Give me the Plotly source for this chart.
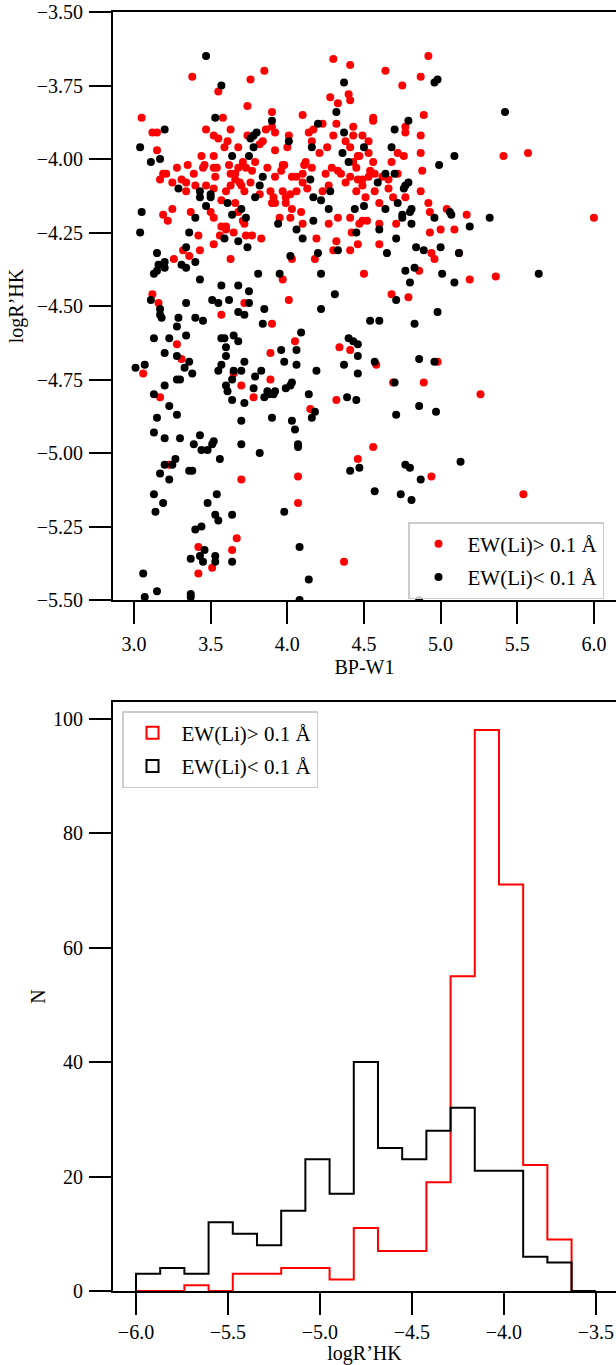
import numpy as np
import plotly.graph_objects as go

# ---------------- data ----------------
# Scatter: (BP-W1, logR'HK) for stars with EW(Li) > 0.1 A
li_rich_points = [
    (3.05,-3.86),(3.38,-3.72),(3.55,-3.77),(3.76,-3.73),(3.85,-3.70),(3.74,-3.82),(3.90,-3.84),(3.58,-3.86),
    (3.47,-3.90),(3.63,-3.90),(3.52,-3.92),(3.55,-3.93),(3.12,-3.91),(3.15,-3.91),(3.15,-3.97),(3.61,-3.94),
    (3.59,-3.96),(3.68,-3.96),(3.74,-3.92),(3.84,-3.94),(3.82,-3.95),(3.86,-3.90),(3.90,-3.89),(3.92,-3.91),
    (3.92,-3.97),(4.01,-3.92),(4.00,-3.96),(4.10,-3.85),(4.14,-3.91),(4.17,-3.90),(4.16,-3.94),(4.23,-3.88),
    (4.30,-3.66),(4.41,-3.68),(4.33,-3.81),(4.40,-3.78),(4.41,-3.80),(4.28,-3.79),(4.32,-3.88),(4.30,-3.92),
    (4.38,-3.94),(4.41,-3.96),(4.43,-3.92),(4.21,-3.98),(4.26,-3.96),(4.46,-3.99),(4.45,-4.03),
    (3.44,-3.99),(3.52,-3.99),(3.45,-4.03),(3.35,-4.02),(3.28,-4.03),(3.19,-4.05),(3.21,-4.05),(3.17,-4.07),
    (3.25,-4.08),(3.31,-4.07),(3.34,-4.08),(3.39,-4.05),(3.46,-4.02),(3.52,-4.03),(3.53,-4.06),(3.54,-4.03),
    (3.62,-4.02),(3.63,-4.05),(3.66,-4.05),(3.68,-4.03),(3.71,-4.01),(3.73,-4.03),(3.77,-4.04),(3.79,-4.01),
    (3.87,-4.03),(3.92,-4.06),(3.97,-4.02),(3.96,-4.04),(3.98,-4.02),(4.03,-4.06),(4.06,-4.06),(4.10,-4.05),
    (4.12,-4.01),(4.11,-4.02),(4.16,-4.03),(4.25,-4.05),(4.29,-4.03),(4.33,-4.04),(4.35,-4.05),(4.38,-4.08),
    (4.41,-4.06),(4.46,-4.07),(4.45,-4.11),
    (3.34,-4.11),(3.40,-4.09),(3.47,-4.09),(3.52,-4.10),(3.60,-4.11),(3.63,-4.09),(3.66,-4.07),(3.69,-4.08),
    (3.70,-4.09),(3.72,-4.11),(3.76,-4.08),(3.82,-4.12),(3.89,-4.11),(3.91,-4.13),(3.97,-4.11),(3.99,-4.13),
    (4.02,-4.12),(4.06,-4.11),(4.10,-4.08),(4.13,-4.10),(4.27,-4.09),(4.23,-4.11),(3.90,-4.15),(3.92,-4.15),
    (3.99,-4.15),(4.03,-4.17),(4.09,-4.18),(4.10,-4.22),(4.02,-4.20),(3.95,-4.20),(4.27,-4.22),(4.33,-4.20),
    (4.41,-4.20),(4.47,-4.22),(3.19,-4.19),(3.22,-4.21),(3.25,-4.17),(3.37,-4.18),(3.50,-4.18),(3.52,-4.20),
    (3.57,-4.14),(3.66,-4.15),(3.68,-4.18),(3.71,-4.21),(3.72,-4.22),(3.57,-4.23),(3.60,-4.23),(3.60,-4.24),
    (3.65,-4.25),(3.73,-4.26),(3.77,-4.26),(3.83,-4.27),(3.56,-4.26),(3.42,-4.26),(4.19,-4.27),(4.32,-4.28),
    (4.42,-4.25),
    (4.92,-3.65),(4.64,-3.70),(4.87,-3.72),(4.75,-3.75),(4.56,-3.86),(4.56,-3.87),(4.89,-3.85),(4.43,-3.89),
    (4.77,-3.89),(4.77,-3.91),(4.87,-3.92),(4.49,-3.92),(4.53,-3.94),(4.53,-3.98),(4.72,-3.98),(4.76,-3.99),
    (4.87,-3.98),(4.47,-3.99),(4.43,-4.01),(4.56,-4.01),(4.68,-4.01),(4.54,-4.04),(4.57,-4.05),(4.62,-4.06),
    (4.66,-4.07),(4.72,-4.05),(4.53,-4.06),(4.49,-4.07),(4.49,-4.09),(4.57,-4.11),(4.66,-4.10),(4.88,-4.04),
    (4.87,-4.11),(4.69,-4.13),(4.77,-4.13),(4.51,-4.13),(4.60,-4.15),(4.92,-4.15),(4.93,-4.18),(5.04,-4.17),
    (5.17,-4.19),(4.49,-4.21),(4.52,-4.21),(4.60,-4.22),(4.71,-4.22),(5.41,-3.99),(5.57,-3.98),(6.00,-4.20),
    (4.93,-4.25),(5.00,-4.24),(5.09,-4.24),
    (3.32,-4.31),(3.43,-4.31),(3.52,-4.29),(3.63,-4.34),(3.36,-4.33),(3.26,-4.34),(4.03,-4.34),(4.18,-4.34),
    (4.30,-4.31),(4.41,-4.31),(4.46,-4.29),(3.97,-4.41),(3.12,-4.46),(3.16,-4.49),(3.72,-4.49),(4.01,-4.48),
    (3.57,-4.53),(3.90,-4.56),(3.28,-4.63),(4.05,-4.62),(3.89,-4.66),(4.34,-4.64),(4.41,-4.65),(3.31,-4.68),
    (3.06,-4.73),(3.65,-4.73),(3.70,-4.77),(3.89,-4.75),(3.17,-4.81),(3.78,-4.81),(4.32,-4.82),(4.15,-4.85),
    (4.60,-4.29),(4.94,-4.32),(4.96,-4.34),(5.12,-4.32),(4.86,-4.38),(4.50,-4.39),(5.19,-4.41),(5.36,-4.40),
    (4.68,-4.46),(4.79,-4.47),(4.58,-4.70),(4.98,-4.69),(4.69,-4.76),(4.89,-4.76),(5.26,-4.80),
    (3.23,-5.04),(3.70,-5.09),(4.07,-5.08),(4.07,-5.17),(3.67,-5.29),(3.64,-5.33),(3.42,-5.32),(3.42,-5.41),
    (3.51,-5.39),(4.37,-5.37),(4.46,-5.02),(4.56,-4.98),(4.94,-5.08),(5.54,-5.14),
]

# Scatter: (BP-W1, logR'HK) for stars with EW(Li) < 0.1 A
li_poor_points = [
    (3.47,-3.65),(3.57,-3.75),(3.53,-3.86),(3.90,-3.87),(3.20,-3.90),(3.04,-3.96),(3.17,-4.00),(3.11,-4.01),
    (3.76,-3.93),(3.78,-3.92),(3.80,-3.91),(3.78,-3.96),(3.64,-3.99),(3.75,-3.99),(4.01,-3.94),(4.20,-3.88),
    (4.32,-3.84),(4.37,-3.74),(4.37,-3.91),(4.16,-3.96),(4.36,-3.98),(4.40,-4.01),(3.84,-4.06),(3.82,-4.09),
    (3.79,-4.13),(3.29,-4.10),(3.43,-4.11),(3.50,-4.12),(3.50,-4.13),(3.43,-4.13),(3.47,-4.16),(3.61,-4.15),
    (3.70,-4.17),(3.64,-4.19),(3.73,-4.20),(3.05,-4.18),(3.40,-4.20),(4.15,-4.07),(4.17,-4.13),(4.22,-4.14),
    (4.28,-4.11),(4.27,-4.17),(4.44,-4.17),(4.17,-4.21),(3.94,-4.22),(4.06,-4.24),(3.04,-4.25),(3.36,-4.25),
    (4.45,-4.25),(3.59,-4.27),(3.68,-4.28),(4.10,-4.27),
    (4.96,-3.74),(4.98,-3.73),(5.42,-3.84),(4.79,-3.87),(4.70,-3.90),(4.50,-3.96),(4.68,-3.96),(5.09,-3.99),
    (4.99,-4.02),(4.64,-4.05),(4.70,-4.05),(4.59,-4.08),(4.76,-4.10),(4.77,-4.09),(4.79,-4.08),(4.72,-4.15),
    (4.50,-4.16),(4.64,-4.17),(4.81,-4.17),(4.80,-4.18),(4.75,-4.19),(4.75,-4.20),(4.81,-4.22),(5.06,-4.18),
    (5.07,-4.19),(4.96,-4.20),(5.32,-4.20),(5.19,-4.23),(4.60,-4.24),(4.71,-4.27),
    (3.34,-4.30),(3.74,-4.30),(4.33,-4.31),(3.15,-4.32),(4.02,-4.33),(4.20,-4.32),(3.16,-4.36),(3.20,-4.35),
    (3.20,-4.37),(3.31,-4.36),(3.34,-4.37),(3.40,-4.35),(3.13,-4.39),(3.15,-4.38),(3.81,-4.39),(3.95,-4.39),
    (4.22,-4.39),(3.43,-4.41),(3.57,-4.43),(3.68,-4.43),(3.75,-4.45),(4.31,-4.46),(3.11,-4.48),(3.34,-4.49),
    (3.51,-4.48),(3.55,-4.49),(3.62,-4.48),(3.75,-4.49),(3.17,-4.51),(3.17,-4.53),(3.18,-4.54),(3.29,-4.54),
    (3.40,-4.54),(3.45,-4.55),(3.68,-4.52),(3.72,-4.53),(3.85,-4.51),(3.84,-4.56),(4.22,-4.51),(3.28,-4.57),
    (3.13,-4.61),(3.23,-4.61),(3.34,-4.60),(3.57,-4.61),(3.59,-4.61),(3.65,-4.60),(3.68,-4.62),(3.60,-4.64),
    (4.09,-4.59),(3.20,-4.66),(3.96,-4.65),(4.06,-4.65),(4.40,-4.61),(4.43,-4.62),(4.46,-4.63),(4.46,-4.67),
    (3.28,-4.67),(3.36,-4.69),(3.33,-4.71),(3.60,-4.67),(3.57,-4.70),(3.72,-4.69),(3.70,-4.72),(3.65,-4.72),
    (3.64,-4.75),(3.01,-4.71),(3.07,-4.70),(3.38,-4.73),(3.28,-4.75),(3.30,-4.75),(3.55,-4.72),(3.83,-4.72),
    (3.79,-4.74),(3.98,-4.69),(4.06,-4.70),(4.19,-4.72),(4.37,-4.70),(4.46,-4.73),(3.20,-4.77),(3.13,-4.80),
    (3.60,-4.77),(3.61,-4.79),(3.78,-4.78),(3.87,-4.79),(3.88,-4.80),(3.91,-4.80),(3.92,-4.79),(3.99,-4.78),
    (4.02,-4.77),(4.03,-4.76),(4.14,-4.80),(3.64,-4.82),(3.72,-4.83),(3.85,-4.81),(4.39,-4.81),(4.45,-4.82),
    (3.23,-4.84),(3.15,-4.88),(3.28,-4.87),(4.18,-4.86),(4.16,-4.88),(3.90,-4.88),(4.03,-4.89),(3.70,-4.89),
    (4.84,-4.30),(4.89,-4.31),(5.00,-4.30),(4.65,-4.32),(5.12,-4.32),(4.77,-4.38),(4.83,-4.37),(5.01,-4.39),
    (5.09,-4.42),(4.80,-4.42),(5.64,-4.39),(4.71,-4.48),(4.98,-4.52),(4.54,-4.55),(4.60,-4.55),(4.83,-4.56),
    (4.57,-4.69),(4.86,-4.68),(4.96,-4.69),(4.70,-4.76),(4.86,-4.84),(4.97,-4.86),(4.71,-4.87),
    (4.05,-4.92),(3.13,-4.93),(3.20,-4.95),(3.30,-4.95),(3.43,-4.94),(3.39,-4.97),(3.44,-4.99),(3.48,-4.99),
    (3.51,-4.97),(3.52,-4.96),(3.70,-4.97),(3.82,-5.00),(4.07,-4.97),(4.07,-4.98),(3.27,-5.02),(3.25,-5.04),
    (3.20,-5.04),(3.17,-5.07),(3.23,-5.09),(3.36,-5.06),(3.38,-5.06),(3.56,-5.02),(4.41,-5.06),(4.47,-5.05),
    (3.13,-5.14),(3.19,-5.17),(3.14,-5.20),(3.48,-5.17),(3.54,-5.14),(3.53,-5.21),(3.55,-5.23),(3.64,-5.21),
    (3.98,-5.20),(3.40,-5.26),(3.44,-5.25),(3.46,-5.33),(3.43,-5.35),(3.45,-5.37),(3.37,-5.36),(3.53,-5.35),
    (3.53,-5.37),(3.64,-5.37),(4.08,-5.32),(3.06,-5.41),(3.15,-5.47),(3.07,-5.49),(3.37,-5.48),(3.37,-5.49),
    (4.14,-5.43),(4.08,-5.50),(4.77,-5.04),(4.80,-5.05),(4.87,-5.09),(5.13,-5.03),(4.57,-5.13),(4.74,-5.14),
    (4.81,-5.16),(4.86,-5.50),
]

# Histogram of logR'HK: 19 equal bins between -6.0 and -3.5
hist_range = (-6.0, -3.5)
hist_nbins = 19
li_rich_counts = [0, 0, 1, 0, 3, 3, 4, 4, 2, 11, 7, 7, 19, 55, 98, 71, 22, 9, 0]
li_poor_counts = [3, 4, 3, 12, 10, 8, 14, 23, 17, 40, 25, 23, 28, 32, 21, 21, 6, 5, 0]

label_rich = "EW(Li)> 0.1 Å"
label_poor = "EW(Li)< 0.1 Å"

# ---------------- figure ----------------
FONT = "Liberation Serif"
RED = "#ff0000"
BLACK = "#000000"

rich_x, rich_y = zip(*li_rich_points)
poor_x, poor_y = zip(*li_poor_points)

edges = np.linspace(hist_range[0], hist_range[1], hist_nbins + 1)


def step_xy(counts):
    xs = [edges[0]] + list(edges[:-1]) + [edges[-1]]
    ys = [0] + list(counts) + [0]
    return xs, ys


fig = go.Figure()

fig.add_trace(go.Scatter(x=rich_x, y=rich_y, mode="markers", name=label_rich,
                         marker=dict(color=RED, size=8, line=dict(width=0)),
                         xaxis="x", yaxis="y", legend="legend", legendgroup="a"))
fig.add_trace(go.Scatter(x=poor_x, y=poor_y, mode="markers", name=label_poor,
                         marker=dict(color=BLACK, size=8, line=dict(width=0)),
                         xaxis="x", yaxis="y", legend="legend", legendgroup="b"))

for counts, col, lab, grp in [(li_rich_counts, RED, label_rich, "c"), (li_poor_counts, BLACK, label_poor, "d")]:
    sx, sy = step_xy(counts)
    fig.add_trace(go.Scatter(x=sx, y=sy, mode="lines", line=dict(color=col, width=2, shape="hv"),
                             showlegend=False, xaxis="x2", yaxis="y2", hoverinfo="skip"))
    # legend patch (outlined rectangle, as in a step histogram legend)
    fig.add_trace(go.Bar(x=[None], y=[None], name=lab,
                         marker=dict(color="rgba(0,0,0,0)", line=dict(color=col, width=2)),
                         xaxis="x2", yaxis="y2", legend="legend2", legendgroup=grp))

axis_common = dict(
    showline=True, linecolor=BLACK, linewidth=1.8,
    ticks="outside", ticklen=22, tickwidth=1.6, tickcolor=BLACK,
    showgrid=False, zeroline=False,
    tickfont=dict(family=FONT, size=20, color=BLACK),
)

H = 1365
top, bottom = 12, 74
plot_h = H - top - bottom  # 1279


def frac(py):
    return (H - bottom - py) / plot_h


legend_style = dict(xanchor="left", yanchor="top",
                    bgcolor="rgba(255,255,255,0.8)", bordercolor="#cccccc", borderwidth=1.5,
                    font=dict(family=FONT, size=21, color=BLACK), tracegroupgap=3,
                    itemwidth=48)

fig.update_layout(
    width=616, height=H,
    margin=dict(l=113, r=0, t=top, b=bottom),
    paper_bgcolor="white", plot_bgcolor="white",
    font=dict(family=FONT, size=20, color=BLACK),
    barmode="overlay",
    xaxis=dict(domain=[0, 1], anchor="y", range=[2.863, 6.144], tick0=3.0, dtick=0.5,
               tickformat=".1f", mirror=True, ticklabelstandoff=3,
               title=dict(text="BP-W1", standoff=6, font=dict(family=FONT, size=20)),
               **axis_common),
    yaxis=dict(domain=[frac(600), 1], anchor="x", range=[-5.5, -3.5], tick0=-5.5, dtick=0.25,
               tickformat=".2f", ticklabelstandoff=2,
               title=dict(text="logR’HK", standoff=8, font=dict(family=FONT, size=20)),
               **axis_common),
    xaxis2=dict(domain=[0, 1], anchor="y2", range=[-6.125, -3.39], tick0=-6.0, dtick=0.5,
                tickformat=".1f", mirror=True, ticklabelstandoff=0, layer="below traces",
                title=dict(text="logR’HK", standoff=6, font=dict(family=FONT, size=20)),
                **axis_common),
    yaxis2=dict(domain=[0, frac(702)], anchor="x2", range=[0, 102.9], tick0=0, dtick=20,
                ticklabelstandoff=2,
                title=dict(text="N", standoff=2, font=dict(family=FONT, size=20)),
                **axis_common),
    legend=dict(x=(408 - 113) / 503, y=frac(522), **legend_style),
    legend2=dict(x=(122 - 113) / 503, y=frac(711), **legend_style),
    showlegend=True,
)

fig.write_html("out.html",
               config={"displayModeBar": False},
               post_script="document.body.style.margin='0';document.body.style.overflow='hidden';")
